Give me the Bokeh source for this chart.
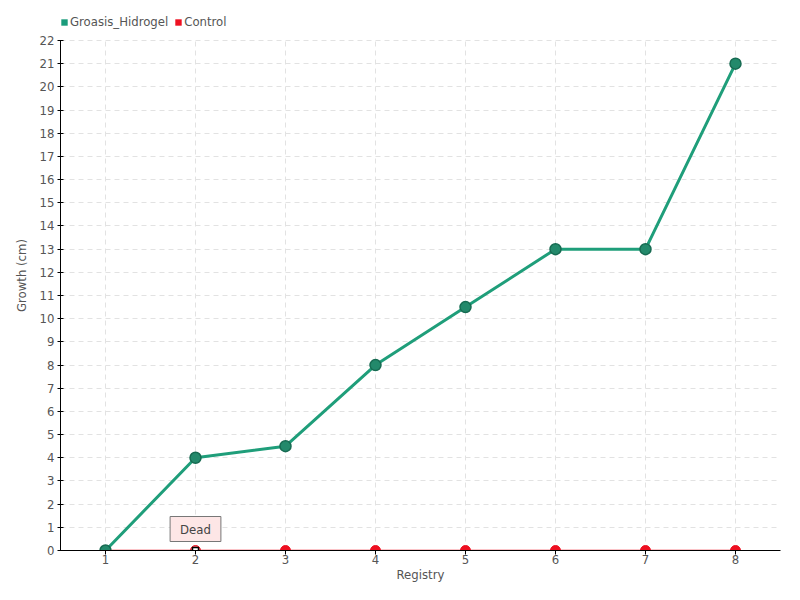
from bokeh.plotting import figure
from bokeh.models import Range1d, FixedTicker, Legend, LegendItem, Label
from bokeh.embed import file_html
from bokeh.resources import INLINE

registry = [1, 2, 3, 4, 5, 6, 7, 8]
groasis = [0, 4, 4.5, 8, 10.5, 13, 13, 21]
control = [0, 0, 0, 0, 0, 0, 0, 0]
y_ticks = list(range(0, 23))
dead_index = 1

FONT = "DejaVu Sans Condensed, Roboto Condensed, Roboto, sans-serif"
TXT = "#555555"
GREEN = "#1f9e7a"
RED = "#ee1122"

W, H = 784, 584
BOTTOM = 34
TOP_GAP = 40  # room above the plotted area for the legend
y_min, y_max = y_ticks[0], y_ticks[-1]
frame_h = H - BOTTOM
y_end = y_max + TOP_GAP * (y_max - y_min) / (frame_h - TOP_GAP)

p = figure(width=W, height=H, output_backend="svg", toolbar_location=None,
           x_range=Range1d(0.5, 8.5), y_range=Range1d(y_min, y_end),
           min_border_left=60, min_border_right=4, min_border_top=0, min_border_bottom=BOTTOM)
p.outline_line_color = None

for ax in (p.xaxis[0], p.yaxis[0]):
    ax.major_label_text_font = FONT
    ax.major_label_text_font_size = "13px"
    ax.major_label_text_color = TXT
    ax.axis_label_text_font = FONT
    ax.axis_label_text_font_size = "13px"
    ax.axis_label_text_font_style = "normal"
    ax.axis_label_text_color = TXT
    ax.axis_line_color = "black"
    ax.major_tick_line_color = "black"
    ax.minor_tick_line_color = None

p.xaxis.ticker = FixedTicker(ticks=registry)
p.yaxis.ticker = FixedTicker(ticks=y_ticks)
p.yaxis.bounds = (y_min, y_max)
p.xaxis.axis_label = "Registry"
p.yaxis.axis_label = "Growth (cm)"
p.xaxis.major_tick_in = 0
p.xaxis.major_tick_out = 4
p.yaxis.major_tick_in = 3
p.yaxis.major_tick_out = 3
p.xaxis.major_label_standoff = 0
p.xaxis.axis_label_standoff = 0
p.yaxis.major_label_standoff = 3
p.yaxis.axis_label_standoff = 8

p.xgrid.visible = False
g = p.ygrid[0]
g.grid_line_color = "#e2e2e2"
g.grid_line_dash = "5 4"
g.grid_line_width = 1
g.ticker = FixedTicker(ticks=y_ticks)
g.bounds = (y_min, y_max)
# vertical grid lines limited to the plotted value range
p.segment(x0=registry, y0=[y_min] * len(registry), x1=registry, y1=[y_max] * len(registry),
          line_color="#e2e2e2", line_dash="5 4", line_width=1)

# Control series
cl = p.line(registry, control, line_color=RED, line_width=1.5)
alive_x = [x for i, x in enumerate(registry) if i != dead_index]
alive_y = [y for i, y in enumerate(control) if i != dead_index]
cs = p.scatter(alive_x, alive_y, size=10, fill_color=RED, line_color=RED)
p.scatter([registry[dead_index]], [control[dead_index]], size=10, fill_color=RED, line_color=RED, fill_alpha=0.6)
p.scatter([registry[dead_index]], [control[dead_index]], marker="square", size=6,
          fill_color="white", line_color="black", line_width=1.5)

# Groasis series
gl = p.line(registry, groasis, line_color=GREEN, line_width=3)
gs = p.scatter(registry, groasis, size=11, fill_color="#23896b", line_color="#176b52", line_width=1.5)

# off-screen square swatches used only for the legend
nan = float("nan")
sw_g = p.quad(left=[nan], right=[nan], bottom=[nan], top=[nan], fill_color="#1a9c7c", line_color=None)
sw_c = p.quad(left=[nan], right=[nan], bottom=[nan], top=[nan], fill_color=RED, line_color=None)

lab = Label(x=registry[dead_index], y=control[dead_index], text="Dead", x_units="data", y_units="data",
            x_offset=0, y_offset=9, text_align="center", text_baseline="bottom",
            text_font=FONT, text_font_size="13px", text_color="#444444",
            background_fill_color="#fde6e6", border_line_color="#777777", border_line_width=1,
            padding=(10, 5))
p.add_layout(lab)

legend = Legend(items=[LegendItem(label="Groasis_Hidrogel", renderers=[sw_g]),
                       LegendItem(label="Control", renderers=[sw_c])],
                orientation="horizontal", location=(0, frame_h - 29),
                label_text_font=FONT, label_text_font_size="13px", label_text_color=TXT,
                glyph_width=8, glyph_height=8, label_standoff=2, spacing=6,
                padding=0, margin=0, border_line_color=None, background_fill_alpha=0)
p.add_layout(legend, "center")

open("out.html", "w").write(file_html(p, INLINE))
